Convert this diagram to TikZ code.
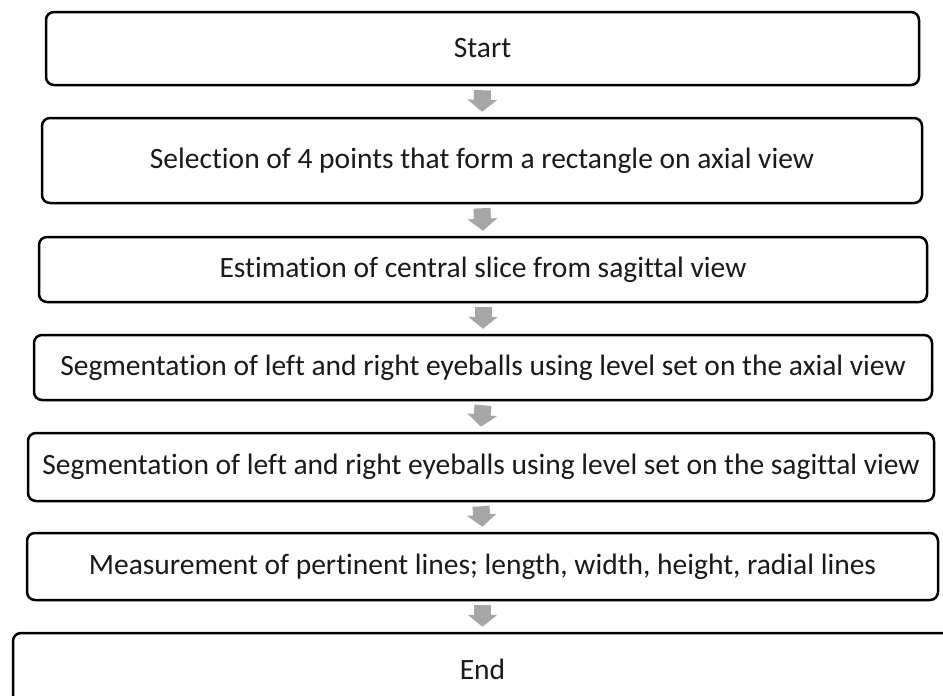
\documentclass[tikz,border=0pt]{standalone}
\usepackage{fontspec}
\setmainfont{Carlito}[Ligatures=NoCommon]
\usetikzlibrary{arrows.meta}
\definecolor{arrgray}{HTML}{A6A6A6}
\definecolor{txt}{HTML}{1A1A1A}
\tikzset{
  x=1pt, y=-1pt,
  flowbox/.style={draw=black, line width=2.5pt, rounded corners=8pt, fill=white,
    inner sep=0pt, text=txt, font=\fontsize{29.5}{34}\selectfont},
  flowarr/.style={draw=arrgray, line width=17pt,
    -{Triangle[width=29pt,length=12pt]}, shorten <=0pt},
}
\begin{document}
\begin{tikzpicture}
\clip (0,0) rectangle (943,696);
\fill[white] (0,0) rectangle (943,696);
\node[flowbox, minimum width=873pt, minimum height=73pt] (b1) at (482.5,48.5) {Start};
\node[flowbox, minimum width=880pt, minimum height=85pt] (b2) at (482,160.5) {Selection of 4 points that form a rectangle on axial view};
\node[flowbox, minimum width=888pt, minimum height=65pt] (b3) at (483,269.5) {Estimation of central slice from sagittal view};
\node[flowbox, minimum width=898pt, minimum height=65pt] (b4) at (483,367.5) {Segmentation of left and right eyeballs using level set on the axial view};
\node[flowbox, minimum width=906pt, minimum height=68pt] (b5) at (481,467) {Segmentation of left and right eyeballs using level set on the sagittal view};
\node[flowbox, minimum width=911pt, minimum height=67pt] (b6) at (482.5,566.5) {Measurement of pertinent lines; length, width, height, radial lines};
\node[flowbox, minimum width=939pt, minimum height=72pt] (b7) at (482.5,669) {End};
\draw[flowarr] ([yshift=-4pt]b1.south) -- ([yshift=5pt]b2.north);
\draw[flowarr] ([yshift=-4pt]b2.south) -- ([yshift=5pt]b3.north);
\draw[flowarr] ([yshift=-4pt]b3.south) -- ([yshift=5pt]b4.north);
\draw[flowarr] ([yshift=-4pt]b4.south) -- ([yshift=5pt]b5.north);
\draw[flowarr] ([yshift=-4pt]b5.south) -- ([yshift=5pt]b6.north);
\draw[flowarr] ([yshift=-4pt]b6.south) -- ([yshift=5pt]b7.north);
\end{tikzpicture}
\end{document}
